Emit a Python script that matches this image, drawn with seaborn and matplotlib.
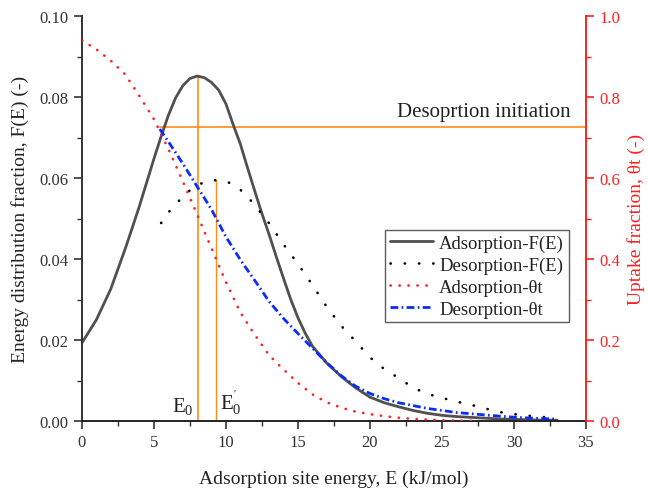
import numpy as np
import pandas as pd
import matplotlib
matplotlib.use("Agg")
import matplotlib.pyplot as plt
from matplotlib.ticker import MultipleLocator, FormatStrFormatter
from matplotlib.lines import Line2D
import seaborn as sns

# Adsorption energy distribution F(E), left axis
e_ads = [0, 1, 2, 3, 3.5, 4, 4.5, 5, 5.5, 6, 6.5, 7, 7.5, 8, 8.5, 9, 9.5, 10,
         10.5, 11, 11.5, 12, 12.5, 13, 13.5, 14, 14.5, 15, 15.5, 16, 17, 18, 19,
         20, 21, 22, 23, 24, 25, 26, 27, 28, 29, 30, 31, 32, 33]
f_ads = [0.0193, 0.0250, 0.0326, 0.0425, 0.0478, 0.0532, 0.0590, 0.0648, 0.0703,
         0.0755, 0.0798, 0.0828, 0.0846, 0.0852, 0.0848, 0.0836, 0.0817, 0.0783,
         0.0732, 0.0684, 0.0625, 0.0568, 0.0512, 0.0460, 0.0405, 0.0352, 0.0300,
         0.0255, 0.0217, 0.0185, 0.0143, 0.0110, 0.0082, 0.0059, 0.0045, 0.0035,
         0.0026, 0.0019, 0.0014, 0.0011, 0.0009, 0.0007, 0.0005, 0.0004, 0.0003,
         0.0002, 0.0002]

# Desorption energy distribution F(E), left axis
e_des = [5.5, 6, 6.5, 7, 7.5, 8, 8.5, 9, 9.5, 10, 10.5, 11, 11.5, 12, 13, 14, 15,
         16, 17, 18, 19, 20, 21, 22, 23, 24, 25, 26, 27, 28, 29, 30, 31, 32, 33]
f_des = [0.0489, 0.0515, 0.0536, 0.0553, 0.0570, 0.0582, 0.0590, 0.0594, 0.0595,
         0.0592, 0.0584, 0.0571, 0.0554, 0.0533, 0.0488, 0.0436, 0.0388, 0.0336,
         0.0282, 0.0235, 0.0197, 0.0157, 0.0128, 0.0106, 0.0082, 0.0067, 0.0057,
         0.0048, 0.0040, 0.0031, 0.0022, 0.0017, 0.0013, 0.0010, 0.0007]

# Adsorption uptake fraction, right axis
e_theta_ads = [0, 1, 2, 3, 4, 5, 6, 7, 8, 9, 10, 11, 12, 13, 14, 15, 16, 17, 18,
               19, 20, 21, 22, 23, 24, 25, 26, 27]
theta_ads = [0.940, 0.918, 0.890, 0.856, 0.802, 0.745, 0.672, 0.592, 0.510,
             0.426, 0.343, 0.268, 0.213, 0.162, 0.127, 0.094, 0.066, 0.046,
             0.033, 0.023, 0.017, 0.012, 0.008, 0.0055, 0.0035, 0.002, 0.001,
             0.0005]

# Desorption uptake fraction, right axis
e_theta_des = [5.4, 6, 7, 8, 9, 10, 11, 12, 13, 14, 15, 16, 17, 18, 19, 20, 21,
               22, 23, 24, 25, 26, 27, 28, 29, 30, 31, 32, 33]
theta_des = [0.721, 0.690, 0.636, 0.579, 0.522, 0.455, 0.398, 0.347, 0.295,
             0.253, 0.216, 0.180, 0.144, 0.112, 0.086, 0.068, 0.055, 0.045,
             0.038, 0.031, 0.026, 0.021, 0.018, 0.015, 0.012, 0.0095, 0.0075,
             0.006, 0.005]

# Reference markers
e0 = 8.08            # peak of adsorption F(E)
e0_prime = 9.3       # peak of desorption F(E)
f_e0 = 0.0852
f_e0_prime = 0.0595
desorption_start_e = 5.4
desorption_level = 0.0725   # on left axis scale (0.725 uptake)

series_labels = ["Adsorption-F(E)", "Desorption-F(E)", "Adsorption-θt", "Desorption-θt"]

sns.set_style("ticks")
plt.rcParams["font.family"] = ["Liberation Serif", "DejaVu Serif"]
plt.rcParams["mathtext.fontset"] = "custom"
plt.rcParams["mathtext.rm"] = "Liberation Serif"
plt.rcParams["mathtext.it"] = "Liberation Serif:italic"

fig = plt.figure(figsize=(6.48, 4.89), dpi=100)
ax = fig.add_axes([0.1265, 0.137, 0.7778, 0.828])
ax2 = ax.twinx()

gray = "#505050"
orange = "#FF8C1A"
red = "#FF2020"
blue = "#0A2BFF"

ads_df = pd.DataFrame({"E": e_ads, "F": f_ads})
des_df = pd.DataFrame({"E": e_des, "F": f_des})
tads_df = pd.DataFrame({"E": e_theta_ads, "theta": theta_ads})
tdes_df = pd.DataFrame({"E": e_theta_des, "theta": theta_des})

dotted_black = (0, (0.1, 5.3))
dotted_red = (0, (0.1, 3.3))
dashdot_blue = (0, (2.8, 1.2, 0.6, 1.2))
dot_lw = 1.9

sns.lineplot(data=ads_df, x="E", y="F", ax=ax, color=gray, linewidth=2.0,
             legend=False)
sns.lineplot(data=des_df, x="E", y="F", ax=ax, color="black", linewidth=dot_lw,
             linestyle=dotted_black, dash_capstyle="round", legend=False)
sns.lineplot(data=tads_df, x="E", y="theta", ax=ax2, color=red, linewidth=dot_lw,
             linestyle=dotted_red, dash_capstyle="round", legend=False)
sns.lineplot(data=tdes_df, x="E", y="theta", ax=ax2, color=blue, linewidth=2.0,
             linestyle=dashdot_blue, legend=False)

# Orange guide lines
ax.plot([desorption_start_e, 35], [desorption_level, desorption_level],
        color=orange, linewidth=1.2, zorder=1)
ax.plot([e0, e0], [0, f_e0], color=orange, linewidth=1.2, zorder=1)
ax.plot([e0_prime, e0_prime], [0, f_e0_prime], color=orange, linewidth=1.0, zorder=1)

ax.text(e0 - 0.35, 0.0012, r"$\mathregular{E_0}$", ha="right", va="bottom",
        fontsize=15, color="#222222")
ax.text(e0_prime + 0.3, 0.0012, r"$\mathregular{E_0^{'}}$", ha="left", va="bottom",
        fontsize=15, color="#222222")
ax.text(27.9, 0.0742, "Desoprtion initiation", ha="center", va="bottom",
        fontsize=15, color="#222222")

# Axes limits and ticks
ax.set_xlim(0, 35)
ax.set_ylim(0, 0.10)
ax2.set_ylim(0, 1.0)
ax.xaxis.set_major_locator(MultipleLocator(5))
ax.xaxis.set_minor_locator(MultipleLocator(2.5))
ax.yaxis.set_major_locator(MultipleLocator(0.02))
ax.yaxis.set_minor_locator(MultipleLocator(0.01))
ax2.yaxis.set_major_locator(MultipleLocator(0.2))
ax2.yaxis.set_minor_locator(MultipleLocator(0.1))
ax.yaxis.set_major_formatter(FormatStrFormatter("%.2f"))
ax2.yaxis.set_major_formatter(FormatStrFormatter("%.1f"))

ax.tick_params(axis="both", which="major", direction="out", length=6, width=1.2,
               labelsize=12, colors="#333333")
ax.tick_params(axis="both", which="minor", direction="out", length=3.5, width=1.0,
               colors="#333333")
ax2.tick_params(axis="y", which="major", direction="out", length=6, width=1.2,
                labelsize=12, colors=red)
ax2.tick_params(axis="y", which="minor", direction="out", length=3.5, width=1.0,
                colors=red)

for s in ["top", "right"]:
    ax.spines[s].set_visible(False)
for s in ["top", "left", "bottom"]:
    ax2.spines[s].set_visible(False)
ax.spines["left"].set_color("#333333")
ax.spines["bottom"].set_color("#222222")
ax.spines["left"].set_linewidth(1.4)
ax.spines["bottom"].set_linewidth(1.4)
ax2.spines["right"].set_color(red)
ax2.spines["right"].set_linewidth(1.4)

ax.set_xlabel("Adsorption site energy, E (kJ/mol)", fontsize=14, color="#222222",
              labelpad=14)
ax.set_ylabel("Energy distribution fraction, F(E) (-)", fontsize=14,
              color="#222222", labelpad=8)
ax2.set_ylabel("Uptake fraction, θt (-)", fontsize=14, color=red, labelpad=5)

handles = [
    Line2D([], [], color=gray, linewidth=2.0),
    Line2D([], [], color="black", linewidth=dot_lw, linestyle=dotted_black,
           dash_capstyle="round"),
    Line2D([], [], color=red, linewidth=dot_lw, linestyle=dotted_red,
           dash_capstyle="round"),
    Line2D([], [], color=blue, linewidth=2.0, linestyle=dashdot_blue),
]
leg = ax2.legend(handles, series_labels, loc="upper left",
                 bbox_to_anchor=(0.601, 0.472), borderaxespad=0, fontsize=13.5,
                 frameon=True, fancybox=False, handlelength=2.3,
                 handletextpad=0.35, labelspacing=0.25, borderpad=0.25)
leg.get_frame().set_edgecolor("#333333")
leg.get_frame().set_linewidth(1.0)
for t in leg.get_texts():
    t.set_color("#222222")

fig.savefig("out.png", dpi=100)
